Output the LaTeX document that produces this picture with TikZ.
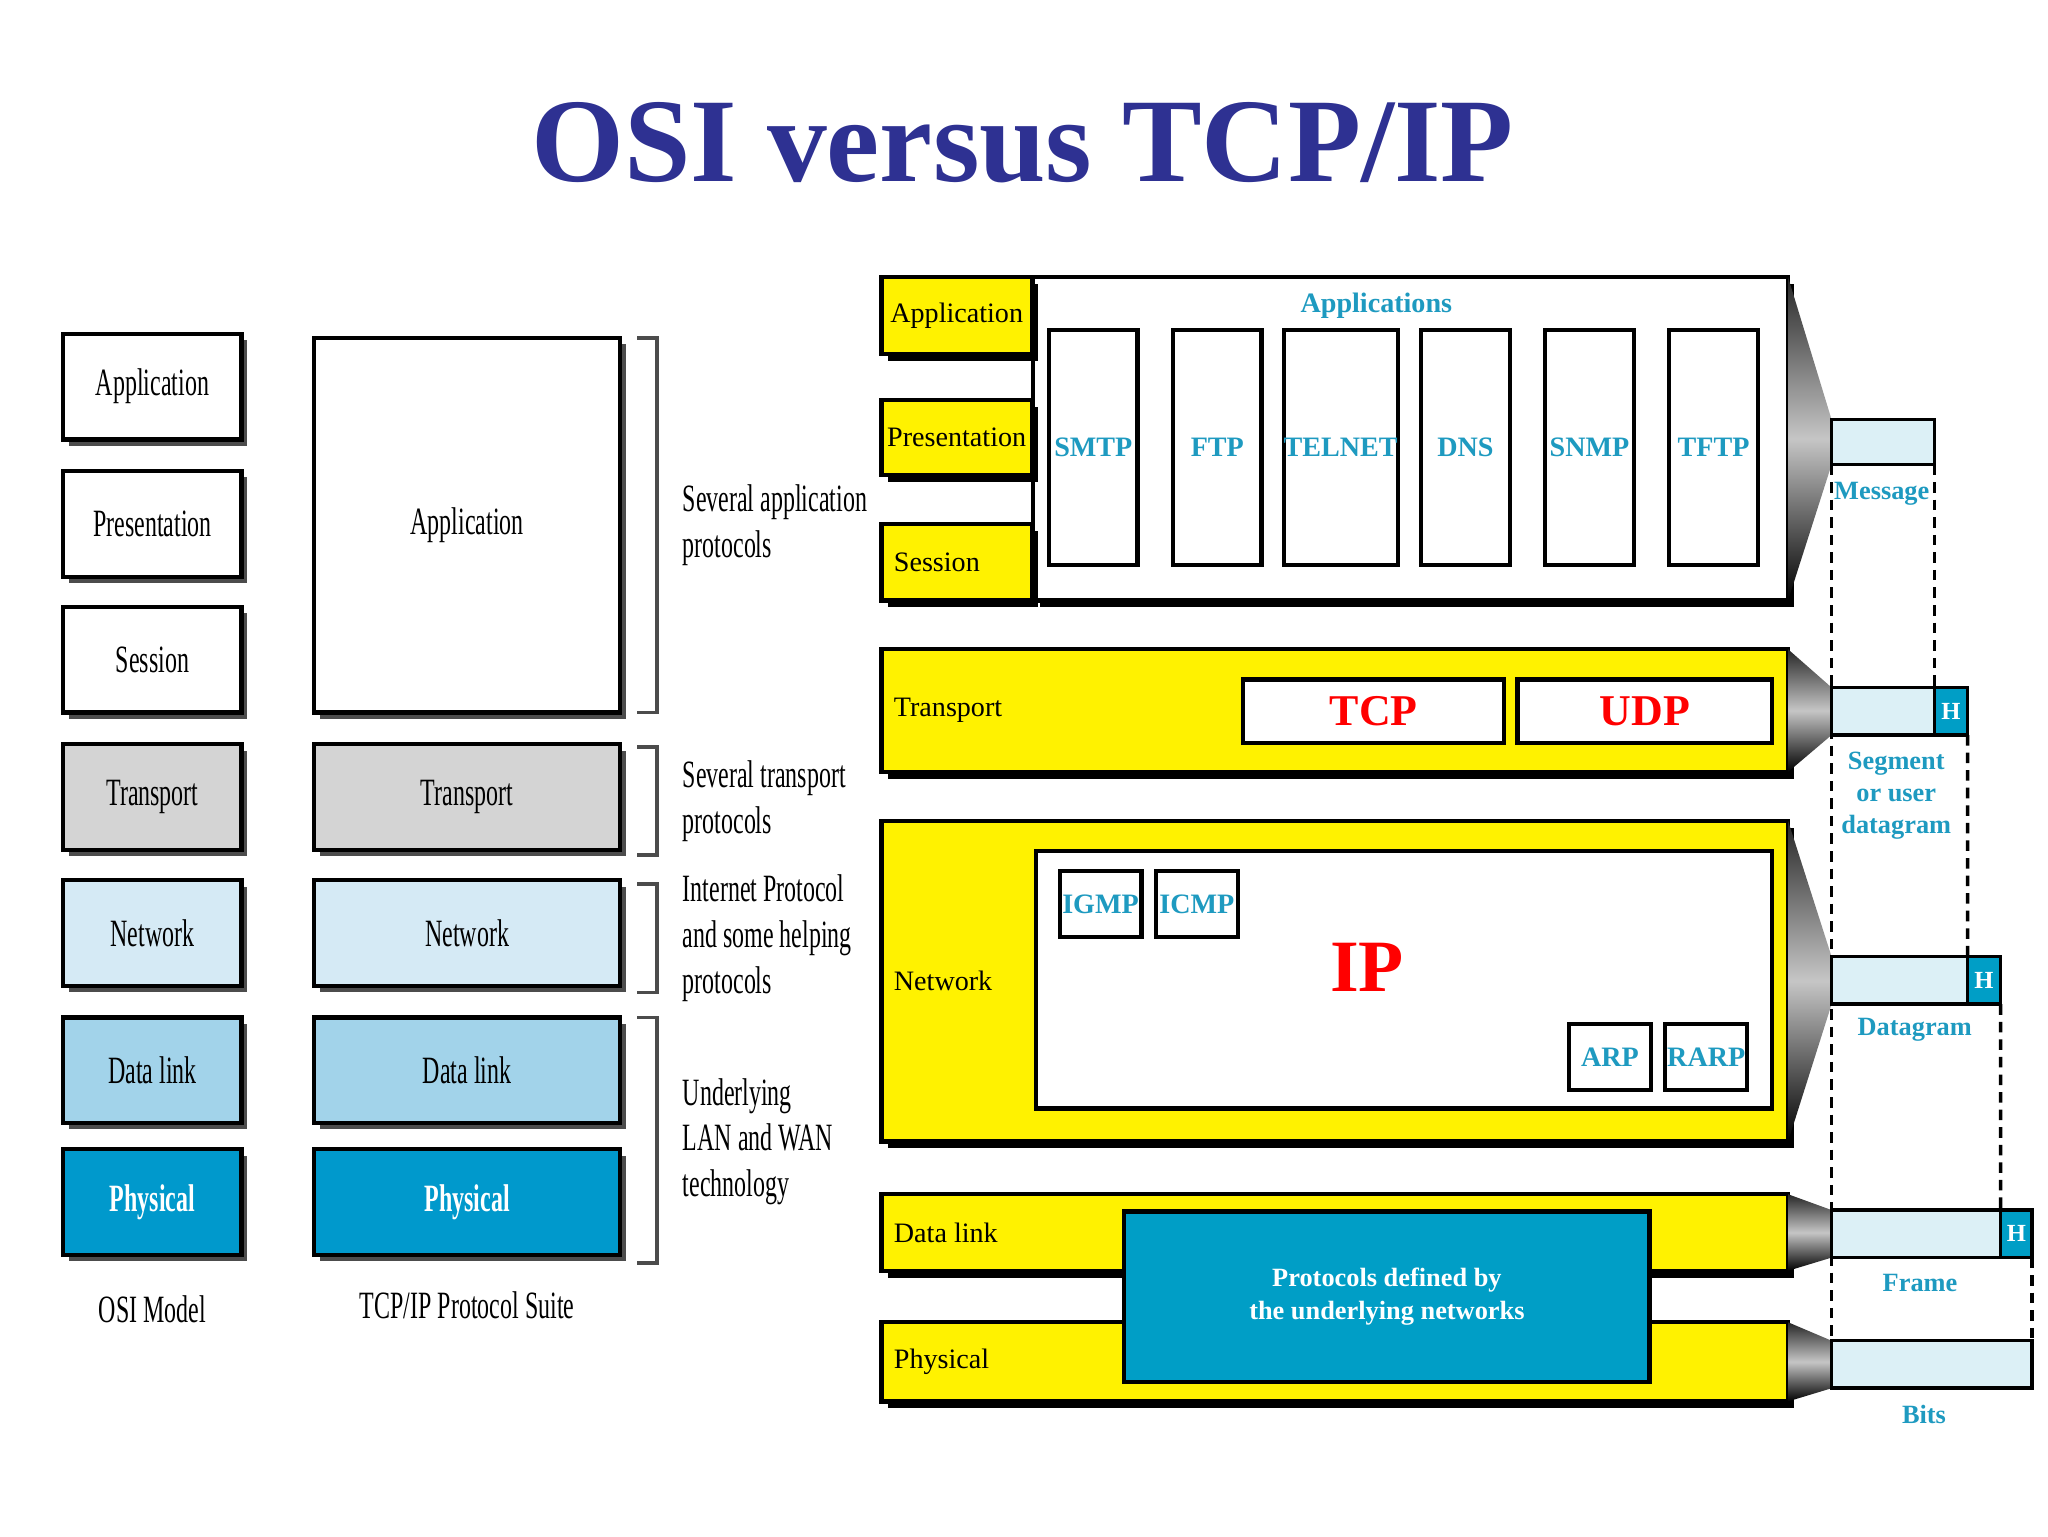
\documentclass[tikz,border=0pt]{standalone}
\usepackage{fontspec}
\setmainfont{Liberation Serif}
\newfontfamily\cond{Liberation Serif}[FakeStretch=0.62]
\usetikzlibrary{positioning, shadows, calc}
\definecolor{ttlblue}{HTML}{2E3192}
\definecolor{teal}{HTML}{1E9AC0}
\definecolor{tealbox}{HTML}{009EC6}
\definecolor{osigray}{HTML}{D4D4D4}
\definecolor{osilight}{HTML}{D5EAF5}
\definecolor{osimid}{HTML}{A2D3EA}
\definecolor{osidark}{HTML}{0099CC}
\definecolor{pdu}{HTML}{DCF0F6}
\newcommand{\px}{0.0132cm}
% box from corner to corner: name, x1, y1, x2, y2, style, text
\newcommand{\bx}[7]{%
  \node[#6, minimum width={(#4-#2)*\px}, minimum height={(#5-#3)*\px}]
    (#1) at ({(#2+#4)/2},{(#3+#5)/2}) {#7};}
\tikzset{%
  base/.style={draw=black, inner sep=0pt, outer sep=0pt},
  osi/.style={base, line width=1.2pt, font=\cond\fontsize{11}{12}\selectfont,
    drop shadow={shadow xshift=1.6pt, shadow yshift=-1.8pt, fill=black!70, opacity=1}},
  layer/.style={base, line width=1.2pt, fill=yellow, align=left,
    font=\fontsize{8}{9}\selectfont,
    drop shadow={shadow xshift=1.8pt, shadow yshift=-2pt, fill=black, opacity=1}},
  proto/.style={base, line width=1.2pt, fill=white, text=teal,
    font=\bfseries\fontsize{8}{9}\selectfont},
  big/.style={base, line width=1.2pt, fill=white, text=red,
    font=\bfseries\fontsize{12.5}{14}\selectfont},
  unit/.style={base, line width=1pt, fill=pdu},
  hdr/.style={base, line width=1pt, fill=tealbox, text=white,
    font=\bfseries\fontsize{7}{8}\selectfont},
  pdulabel/.style={text=teal, font=\bfseries\fontsize{7.5}{9}\selectfont, align=center},
  note/.style={anchor=west, align=left, font=\cond\fontsize{11}{13}\selectfont},
  funnel/.style={top color=black!85, bottom color=black, middle color=gray!45},
  brace/.style={draw=black!70, line width=1pt},
  guide/.style={densely dashed, line width=1pt}
}
\begin{document}
\begin{tikzpicture}[x=\px, y=-\px]
  \useasboundingbox (0,0) rectangle (1552,1164);
  \node[text=ttlblue, font=\bfseries\fontsize{34}{40}\selectfont] (title) at (775,108) {OSI versus TCP/IP};

  % OSI model column
  \bx{o1}{48}{253}{183}{333}{osi, fill=white}{Application}
  \bx{o2}{48}{357}{183}{437}{osi, fill=white}{Presentation}
  \bx{o3}{48}{460}{183}{540}{osi, fill=white}{Session}
  \bx{o4}{48}{564}{183}{644}{osi, fill=osigray}{Transport}
  \bx{o5}{48}{667}{183}{747}{osi, fill=osilight}{Network}
  \bx{o6}{48}{771}{183}{851}{osi, fill=osimid}{Data link}
  \bx{o7}{48}{871}{183}{951}{osi, fill=osidark, text=white}{\bfseries Physical}
  \node[font=\cond\fontsize{11}{12}\selectfont, below=8pt of o7] (osiname) {OSI Model};

  % TCP/IP suite column
  \bx{t1}{238}{256}{470}{540}{osi, fill=white}{Application}
  \bx{t4}{238}{564}{470}{644}{osi, fill=osigray}{Transport}
  \bx{t5}{238}{667}{470}{747}{osi, fill=osilight}{Network}
  \bx{t6}{238}{771}{470}{851}{osi, fill=osimid}{Data link}
  \bx{t7}{238}{871}{470}{951}{osi, fill=osidark, text=white}{\bfseries Physical}
  \node[font=\cond\fontsize{11}{12}\selectfont, below=7pt of t7] (tcpname) {TCP/IP Protocol Suite};

  % brackets and notes
  \foreach \n/\a/\b in {1/256/540, 2/566/648, 3/670/752, 4/771/957} {
    \coordinate (bt\n) at (483,\a);
    \coordinate (bb\n) at (483,\b);
    \draw[brace] (bt\n) -- ++(15,0) |- (bb\n);
  }
  \node[note] (n1) at (508,398) {Several application\\protocols};
  \node[note] (n2) at (508,607) {Several transport\\protocols};
  \node[note] (n3) at (508,711) {Internet Protocol\\and some helping\\protocols};
  \node[note] (n4) at (508,865) {Underlying\\LAN and WAN\\technology};

  % TCP/IP stack, right side
  \bx{appblk}{783}{210}{1355}{455}{layer, fill=white}{}
  \bx{lapp}{668}{210}{782}{268}{layer}{Application}
  \bx{lpre}{668}{303}{782}{360}{layer}{Presentation}
  \bx{lses}{668}{397}{782}{455}{layer}{}
  \node[anchor=west, font=\fontsize{8}{9}\selectfont] (tses) at (lses.west) {Session};
  \node[text=teal, font=\bfseries\fontsize{8}{9}\selectfont] (apps) at (1043,232) {Applications};
  \bx{smtp}{795}{250}{862}{428}{proto}{SMTP}
  \bx{ftp}{889}{250}{956}{428}{proto}{FTP}
  \bx{telnet}{976}{250}{1056}{428}{proto}{TELNET}
  \bx{dns}{1077}{250}{1144}{428}{proto}{DNS}
  \bx{snmp}{1171}{250}{1238}{428}{proto}{SNMP}
  \bx{tftp}{1265}{250}{1332}{428}{proto}{TFTP}

  \bx{trn}{668}{492}{1355}{585}{layer}{}
  \node[anchor=west, font=\fontsize{8}{9}\selectfont] (ttrn) at (trn.west) {Transport};
  \bx{tcp}{942}{515}{1140}{563}{big}{TCP}
  \bx{udp}{1150}{515}{1343}{563}{big}{UDP}

  \bx{net}{668}{622}{1355}{865}{layer}{}
  \node[anchor=west, font=\fontsize{8}{9}\selectfont] (tnet) at (net.west) {Network};
  \bx{ipblk}{785}{645}{1343}{840}{base, line width=1.2pt, fill=white}{}
  \bx{igmp}{803}{660}{865}{710}{proto}{IGMP}
  \bx{icmp}{876}{660}{938}{710}{proto}{ICMP}
  \node[text=red, font=\bfseries\fontsize{21}{24}\selectfont] (ip) at (1036,733) {IP};
  \bx{arp}{1189}{776}{1251}{826}{proto}{ARP}
  \bx{rarp}{1262}{776}{1324}{826}{proto}{RARP}

  \bx{dl}{668}{905}{1355}{963}{layer}{}
  \node[anchor=west, font=\fontsize{8}{9}\selectfont] (tdl) at (dl.west) {Data link};
  \bx{phy}{668}{1002}{1355}{1062}{layer}{}
  \node[anchor=west, font=\fontsize{8}{9}\selectfont] (tphy) at (phy.west) {Physical};
  \bx{under}{852}{918}{1250}{1047}{base, line width=1.2pt, fill=tealbox, text=white, align=center,
    font=\bfseries\fontsize{7.5}{9.5}\selectfont}{Protocols defined by\\the underlying networks}

  % funnels
  \foreach \t/\b/\u/\v in {210/455/318/352, 492/585/521/557, 622/865/725/761,
                            905/963/917/953, 1002/1062/1016/1052}
    \shade[funnel] (1355,\t) -- (1388,\u) -- (1388,\v) -- (1355,\b) -- cycle;

  % data units
  \bx{msg}{1388}{318}{1466}{352}{unit}{}
  \bx{seg}{1388}{521}{1466}{557}{unit}{}
  \bx{segh}{1466}{521}{1491}{557}{hdr}{H}
  \bx{dgr}{1388}{725}{1491}{761}{unit}{}
  \bx{dgrh}{1491}{725}{1516}{761}{hdr}{H}
  \bx{frm}{1388}{917}{1516}{953}{unit}{}
  \bx{frmh}{1516}{917}{1540}{953}{hdr}{H}
  \bx{bits}{1388}{1016}{1540}{1052}{unit}{}

  \node[pdulabel] (lmsg) at (1426,374) {Message};
  \node[pdulabel, align=center] (lseg) at (1437,603) {Segment\\or user\\datagram};
  \node[pdulabel] (ldgr) at (1451,780) {Datagram};
  \node[pdulabel] (lfrm) at (1455,972) {Frame};
  \node[pdulabel] (lbits) at (1458,1072) {Bits};

  % guide lines
  \draw[guide] (msg.south west) -- (bits.north west);
  \draw[guide] (msg.south east) -- (segh.north west);
  \draw[guide] (segh.south east) -- (dgrh.north west);
  \draw[guide] (dgrh.south east) -- (frmh.north west);
  \draw[guide] (frmh.south east) -- (bits.north east);
\end{tikzpicture}
\end{document}
